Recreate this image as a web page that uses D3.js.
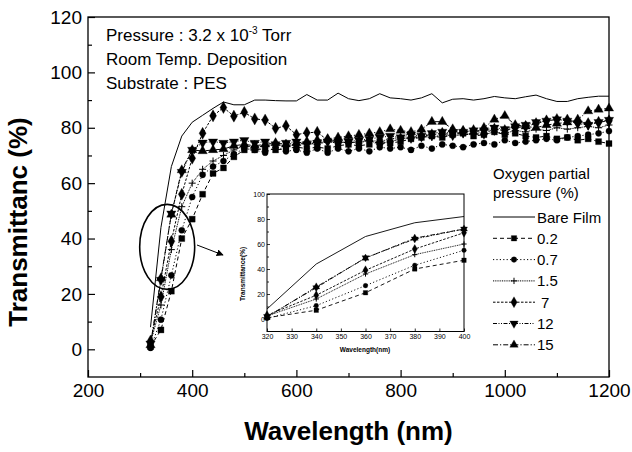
<!DOCTYPE html>
<html>
<head>
<meta charset="utf-8">
<script src="https://cdn.jsdelivr.net/npm/d3@7/dist/d3.min.js"></script>
<style>
body { margin: 0; background: #fff; }
svg { display: block; font-family: "Liberation Sans", Arial, sans-serif; }
</style>
</head>
<body>
<svg width="632" height="452"></svg>
<script>
// wavelength (nm) of every measured point
var wavelength = [320, 340, 360, 380, 400, 420, 440, 460, 480, 500, 520, 540, 560, 580, 600,
    620, 640, 660, 680, 700, 720, 740, 760, 780, 800, 820, 840, 860, 880, 900, 920, 940, 960,
    980, 1000, 1020, 1040, 1060, 1080, 1100, 1120, 1140, 1160, 1180, 1200];

// transmittance (%)
var bareFilm = [8, 44, 66, 77, 82, 84.5, 87, 89.3, 88.3, 88.3, 90, 90, 89.8, 89.7, 89.7, 92, 90, 90,
    92.5, 90.5, 89.8, 90.5, 92.3, 90.8, 90.5, 90, 90.8, 92.3, 89, 90.3, 90.5, 90, 90.5, 91.3, 90.8,
    90.5, 91.2, 91.8, 90.5, 89.5, 89.5, 90.5, 91, 91.4, 91.4];
var p0_2 = [1, 7, 21, 40, 47, 56, 63.5, 65.5, 69.5, 72, 72, 72.5, 72, 72.5, 73, 72.5, 73, 72.5, 73.5,
    74, 73.5, 74, 75, 74.5, 75, 76, 76.5, 77, 76.5, 77.5, 78, 77, 77.5, 78.5, 77.5, 78, 77, 76.5, 77,
    76, 76.5, 75.5, 76, 75, 74.3];
var p0_7 = [0.5, 10.7, 26.7, 43, 55, 63, 66, 68, 70.5, 72.5, 72, 71, 73, 71.5, 72, 71, 72.5, 71, 72.5,
    71.5, 72.5, 71.5, 73, 72.5, 73, 72, 73.5, 72.5, 74, 73.5, 73, 74, 74.5, 74, 75.5, 74.5, 75, 75.5,
    76, 75.5, 76.5, 77, 77.5, 78, 78.8];
var p1_5 = [2.4, 16, 36, 51.5, 60, 65, 68, 70, 72, 73.5, 73, 73.5, 74, 73.5, 74, 74.5, 74, 75, 74.5,
    75, 74.5, 75.5, 75, 76, 76.5, 76, 77, 76.5, 77.5, 77, 77.5, 78, 77.5, 78.5, 78, 79, 78.5, 79.5,
    79, 80, 79.5, 80, 80.5, 80, 81];
var p7 = [3, 19, 39, 56, 69, 78, 84.3, 87.3, 84.2, 85.6, 83.2, 82.8, 79.8, 80.7, 77.5, 78.2, 78.4,
    75.5, 75, 74.5, 75, 75.5, 74, 75, 76, 76.5, 77, 77.5, 78, 77.5, 78.5, 79, 78, 79.5, 79, 80, 80.5,
    81.5, 82.5, 83, 82.8, 82, 81.5, 82, 82.5];
var p12 = [2, 25, 49, 64, 72, 74.6, 75, 74.5, 75, 75.5, 74.5, 75, 74, 74.5, 75, 74, 74.5, 75, 74.5,
    75, 75.5, 76, 76.5, 77, 76.5, 77.5, 77, 78, 78.5, 78, 78.5, 79, 79, 80, 79.5, 80.5, 81, 82, 82.5,
    83, 82.5, 81.5, 81, 82, 82.8];
var p15 = [1.5, 25.7, 48.7, 64.7, 72, 71.6, 72, 72.3, 73.5, 74, 73.5, 74, 74.5, 74, 74.5, 75, 75.5,
    76, 76.5, 77, 77.5, 78, 78.5, 79.5, 79, 78.5, 79.4, 82.2, 82.2, 79.5, 79, 78.5, 80, 83, 84.3, 81,
    80.5, 80, 81, 81.5, 82, 83, 86, 86.6, 87];

var seriesNames = ["Bare Film", "0.2", "0.7", "1.5", "7", "12", "15"];
var seriesValues = [bareFilm, p0_2, p0_7, p1_5, p7, p12, p15];

var xTicks = [200, 400, 600, 800, 1000, 1200];
var yTicks = [0, 20, 40, 60, 80, 100, 120];
var insetXTicks = [320, 330, 340, 350, 360, 370, 380, 390, 400];
var insetYTicks = [0, 20, 40, 60, 80, 100];

// line style + marker per series
var styles = [
    { dash: null, marker: null },
    { dash: "4,3", marker: "square" },
    { dash: "1.2,2.2", marker: "circle" },
    { dash: "1,0.8", marker: "plus" },
    { dash: "2.5,1.5", marker: "diamond" },
    { dash: "4,1.5,1,1.5,1,1.5", marker: "down" },
    { dash: "5,2,1.2,2", marker: "up" }
];

var series = seriesNames.map(function(name, i) {
    return {
        name: name,
        style: styles[i],
        points: wavelength.map(function(w, j) { return { x: w, y: seriesValues[i][j] }; })
    };
});

var svg = d3.select("svg");

var x = d3.scaleLinear().domain([200, 1200]).range([88, 609]);
var y = d3.scaleLinear().domain([-10, 120]).range([377, 17]);

function markerPath(type, k) {
    k = k || 1;
    if (type === "square") return d3.symbol(d3.symbolSquare, 36 * k * k)();
    if (type === "circle") return d3.symbol(d3.symbolCircle, 30 * k * k)();
    if (type === "diamond") return d3.symbol(d3.symbolDiamond, 42 * k * k)();
    if (type === "up" || type === "down") return d3.symbol(d3.symbolTriangle, 38 * k * k)();
    if (type === "plus") { var s = 3.5 * k; return "M" + (-s) + ",0H" + s + "M0," + (-s) + "V" + s; }
    return null;
}

function drawMarkers(g, s, xs, ys, k) {
    if (!s.style.marker) return;
    g.selectAll(null)
        .data(s.points.filter(function(d) { return d.x >= xs.domain()[0] && d.x <= xs.domain()[1]; }))
        .enter().append("path")
        .attr("d", markerPath(s.style.marker, k))
        .attr("transform", function(d) {
            return "translate(" + xs(d.x) + "," + ys(d.y) + ")" + (s.style.marker === "down" ? " rotate(180)" : "");
        })
        .attr("fill", s.style.marker === "plus" ? "none" : "#000")
        .attr("stroke", "#000")
        .attr("stroke-width", s.style.marker === "plus" ? 1 : 0.3);
}

// ---- main plot ----
var lineMain = d3.line().x(function(d) { return x(d.x); }).y(function(d) { return y(d.y); });

var main = svg.append("g");
series.forEach(function(s) {
    main.append("path")
        .attr("d", lineMain(s.points))
        .attr("fill", "none")
        .attr("stroke", "#000")
        .attr("stroke-width", 1)
        .attr("stroke-dasharray", s.style.dash);
    drawMarkers(main, s, x, y, 1);
});

function axisStyle(g, size) {
    g.select(".domain").remove();
    g.selectAll("line").attr("stroke", "#000").attr("stroke-width", 1.2);
    g.selectAll("text").attr("font-size", size).attr("fill", "#000")
        .attr("font-family", "'Liberation Sans', Arial, sans-serif");
}

svg.append("g").attr("transform", "translate(0,377)")
    .call(d3.axisBottom(x).tickValues(xTicks).tickSize(-7).tickPadding(7).tickFormat(d3.format("d")))
    .call(axisStyle, 19);
svg.append("g").attr("transform", "translate(0,377)")
    .call(d3.axisBottom(x).tickValues([300, 500, 700, 900, 1100]).tickSize(-4).tickFormat(""))
    .call(axisStyle, 19);
svg.append("g").attr("transform", "translate(88,0)")
    .call(d3.axisLeft(y).tickValues(yTicks).tickSize(-7).tickPadding(6))
    .call(axisStyle, 19);
svg.append("g").attr("transform", "translate(88,0)")
    .call(d3.axisLeft(y).tickValues([10, 30, 50, 70, 90, 110]).tickSize(-4).tickFormat(""))
    .call(axisStyle, 19);

svg.append("rect")
    .attr("x", 88).attr("y", 17).attr("width", 609 - 88).attr("height", 377 - 17)
    .attr("fill", "none").attr("stroke", "#000").attr("stroke-width", 1.3);

svg.append("text")
    .attr("x", (88 + 609) / 2).attr("y", 440)
    .attr("text-anchor", "middle").attr("font-size", 26).attr("font-weight", "bold")
    .text("Wavelength (nm)");
svg.append("text")
    .attr("transform", "translate(27,222) rotate(-90)")
    .attr("text-anchor", "middle").attr("font-size", 26).attr("font-weight", "bold")
    .text("Transmittanc (%)");

// top-left notes
var note = svg.append("g").attr("font-size", 17);
var t1 = note.append("text").attr("x", 106).attr("y", 41);
t1.append("tspan").text("Pressure : 3.2 x 10");
t1.append("tspan").attr("dy", -7).attr("font-size", 10).text("-3");
t1.append("tspan").attr("dy", 7).text(" Torr");
note.append("text").attr("x", 106).attr("y", 65).text("Room Temp. Deposition");
note.append("text").attr("x", 106).attr("y", 89).text("Substrate : PES");

// legend
var legend = svg.append("g").attr("font-size", 15);
legend.append("text").attr("x", 493).attr("y", 179).text("Oxygen partial");
legend.append("text").attr("x", 493).attr("y", 198).text("pressure (%)");
series.forEach(function(s, i) {
    var ly = 217 + i * 21.3;
    var row = legend.append("g");
    row.append("line")
        .attr("x1", 493).attr("x2", 535).attr("y1", ly).attr("y2", ly)
        .attr("stroke", "#000").attr("stroke-width", 1)
        .attr("stroke-dasharray", s.style.dash);
    if (s.style.marker) {
        row.append("path")
            .attr("d", markerPath(s.style.marker, 0.9))
            .attr("transform", "translate(514," + ly + ")" + (s.style.marker === "down" ? " rotate(180)" : ""))
            .attr("fill", s.style.marker === "plus" ? "none" : "#000")
            .attr("stroke", "#000").attr("stroke-width", s.style.marker === "plus" ? 1 : 0.3);
    }
    row.append("text").attr("x", s.name === "7" ? 541 : 537).attr("y", ly + 5.5).text(s.name);
});

// ellipse + arrow pointing to inset
svg.append("ellipse")
    .attr("cx", x(352)).attr("cy", y(37)).attr("rx", 27.5).attr("ry", 42.5)
    .attr("fill", "none").attr("stroke", "#000").attr("stroke-width", 1.6);

svg.append("defs").append("marker")
    .attr("id", "arrow").attr("viewBox", "0 0 10 10").attr("refX", 9).attr("refY", 5)
    .attr("markerWidth", 7).attr("markerHeight", 7).attr("orient", "auto")
    .attr("markerUnits", "userSpaceOnUse")
    .append("path").attr("d", "M0,0L10,5L0,10Z").attr("fill", "#000");
svg.append("line")
    .attr("x1", 197).attr("y1", 245).attr("x2", 223).attr("y2", 255)
    .attr("stroke", "#000").attr("stroke-width", 1).attr("marker-end", "url(#arrow)");

// ---- inset ----
var ix = d3.scaleLinear().domain([320, 400]).range([267, 464]);
var iy = d3.scaleLinear().domain([-10, 100]).range([331.5, 194]);

var inset = svg.append("g");
inset.append("rect")
    .attr("x", 267).attr("y", 194).attr("width", 464 - 267).attr("height", 331.5 - 194)
    .attr("fill", "#fff");

var lineInset = d3.line().x(function(d) { return ix(d.x); }).y(function(d) { return iy(d.y); });
series.forEach(function(s) {
    var pts = s.points.filter(function(d) { return d.x <= 400; });
    inset.append("path")
        .attr("d", lineInset(pts))
        .attr("fill", "none")
        .attr("stroke", "#000")
        .attr("stroke-width", 0.9)
        .attr("stroke-dasharray", s.style.dash);
    drawMarkers(inset, s, ix, iy, 0.75);
});

inset.append("g").attr("transform", "translate(0,331.5)")
    .call(d3.axisBottom(ix).tickValues(insetXTicks).tickSize(-3).tickPadding(3))
    .call(axisStyle, 7);
inset.append("g").attr("transform", "translate(267,0)")
    .call(d3.axisLeft(iy).tickValues(insetYTicks).tickSize(-3).tickPadding(2))
    .call(axisStyle, 7);
inset.append("g").attr("transform", "translate(267,0)")
    .call(d3.axisLeft(iy).tickValues([10, 30, 50, 70, 90]).tickSize(-2).tickFormat(""))
    .call(axisStyle, 7);
inset.selectAll("line").attr("stroke-width", 0.8);

inset.append("rect")
    .attr("x", 267).attr("y", 194).attr("width", 464 - 267).attr("height", 331.5 - 194)
    .attr("fill", "none").attr("stroke", "#000").attr("stroke-width", 1);

inset.append("text")
    .attr("x", 365).attr("y", 352)
    .attr("text-anchor", "middle").attr("font-size", 6.5).attr("font-weight", "bold")
    .text("Wavelength(nm)");
inset.append("text")
    .attr("transform", "translate(245,274) rotate(-90)")
    .attr("text-anchor", "middle").attr("font-size", 6.5).attr("font-weight", "bold")
    .text("Transmittance(%)");
</script>
</body>
</html>
